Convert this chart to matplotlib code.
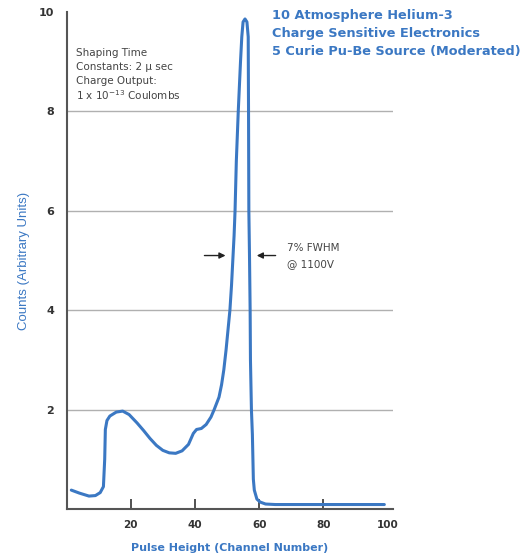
import numpy as np
import matplotlib.pyplot as plt

# pulse height spectrum
channel = [1.5, 4, 7, 9, 10.5, 11.5, 11.9, 12.1, 12.6, 13.5, 15.5, 17.5, 19.5,
           22, 24, 26, 28, 30, 32, 34, 36, 38, 39.5, 40.5, 42, 43.5, 45, 46,
           47.5, 48.3, 49.0, 49.7, 50.3, 50.9, 51.4, 51.8, 52.2, 52.5, 52.9,
           53.5, 54.2, 54.6, 55.0, 55.6, 56.2, 56.6, 56.7, 56.8, 57.0, 57.2,
           57.3, 57.6, 57.9, 58.2, 58.5, 59.3, 60.3, 62, 65, 99]
counts = [0.38, 0.32, 0.26, 0.27, 0.33, 0.45, 1.0, 1.6, 1.78, 1.87, 1.95, 1.97,
          1.90, 1.73, 1.58, 1.42, 1.28, 1.18, 1.13, 1.12, 1.17, 1.30, 1.52,
          1.60, 1.62, 1.70, 1.85, 2.0, 2.25, 2.5, 2.8, 3.2, 3.6, 4.0, 4.5, 5.0,
          5.5, 6.0, 7.0, 8.0, 9.0, 9.5, 9.8, 9.86, 9.8, 9.5, 8.0, 6.0, 5.1,
          4.0, 3.0, 2.0, 1.5, 0.6, 0.38, 0.2, 0.14, 0.1, 0.09, 0.09]

xticks = [20, 40, 60, 80, 100]
yticks = [2, 4, 6, 8, 10]

title_lines = ["10 Atmosphere Helium-3",
               "Charge Sensitive Electronics",
               "5 Curie Pu-Be Source (Moderated)"]
note_lines = ["Shaping Time",
              u"Constants: 2 \u03bc sec",
              "Charge Output:",
              r"1 x 10$^{-13}$ Coulombs"]

blue = "#3b78c3"
W, H = 527, 557

fig = plt.figure(figsize=(W / 100, H / 100), dpi=100)
ax = fig.add_axes([66.5 / W, 1 - 509 / H, (393 - 66.5) / W, (509 - 12) / H])

for y in [2, 4, 6, 8]:
    ax.axhline(y, color="#b0b0b0", lw=1, zorder=1)

ax.plot(channel, counts, color=blue, lw=2.2, solid_capstyle="round",
        solid_joinstyle="round", zorder=3)

ax.set_xlim(0, 101.7)
ax.set_ylim(0, 10)
ax.set_xticks(xticks)
ax.set_yticks(yticks)
ax.set_xticklabels([str(t) for t in xticks], fontsize=7.5, fontweight="bold", color="#333333")
ax.set_yticklabels([str(t) for t in yticks], fontsize=8, fontweight="bold", color="#333333")
ax.tick_params(axis="x", direction="in", length=7, width=1.2, color="#333333", pad=8)
ax.tick_params(axis="y", length=0, pad=9)
ax.xaxis.get_major_ticks()[-1].tick1line.set_visible(False)

for s in ["top", "right"]:
    ax.spines[s].set_visible(False)
for s in ["left", "bottom"]:
    ax.spines[s].set_color("#555555")
    ax.spines[s].set_linewidth(1.5)

ax.set_xlabel("Pulse Height (Channel Number)", color=blue, fontsize=8,
              fontweight="bold", labelpad=9)
ax.set_ylabel("Counts (Arbitrary Units)", color=blue, fontsize=9.5,
              family="Liberation Sans", labelpad=6)

for i, line in enumerate(title_lines):
    fig.text(272 / W, 1 - (15 + 18.3 * i) / H, line, color=blue, fontsize=9.3,
             fontweight="bold", va="center", ha="left")

for i, line in enumerate(note_lines):
    fig.text(76 / W, 1 - (53 + 14 * i) / H, line, color="#444444", fontsize=7.5,
             va="center", ha="left")

fig.text(287 / W, 1 - 248 / H, "7% FWHM", color="#444444", fontsize=7.5, va="center")
fig.text(287 / W, 1 - 264 / H, "@ 1100V", color="#444444", fontsize=7.5, va="center")

arrow = dict(arrowstyle="-|>", color="#222222", lw=1, mutation_scale=9)
ax.annotate("", xy=(50.4, 5.1), xytext=(42.1, 5.1), arrowprops=arrow)
ax.annotate("", xy=(58.4, 5.1), xytext=(66.0, 5.1), arrowprops=arrow)

fig.savefig("out.png", dpi=100)
